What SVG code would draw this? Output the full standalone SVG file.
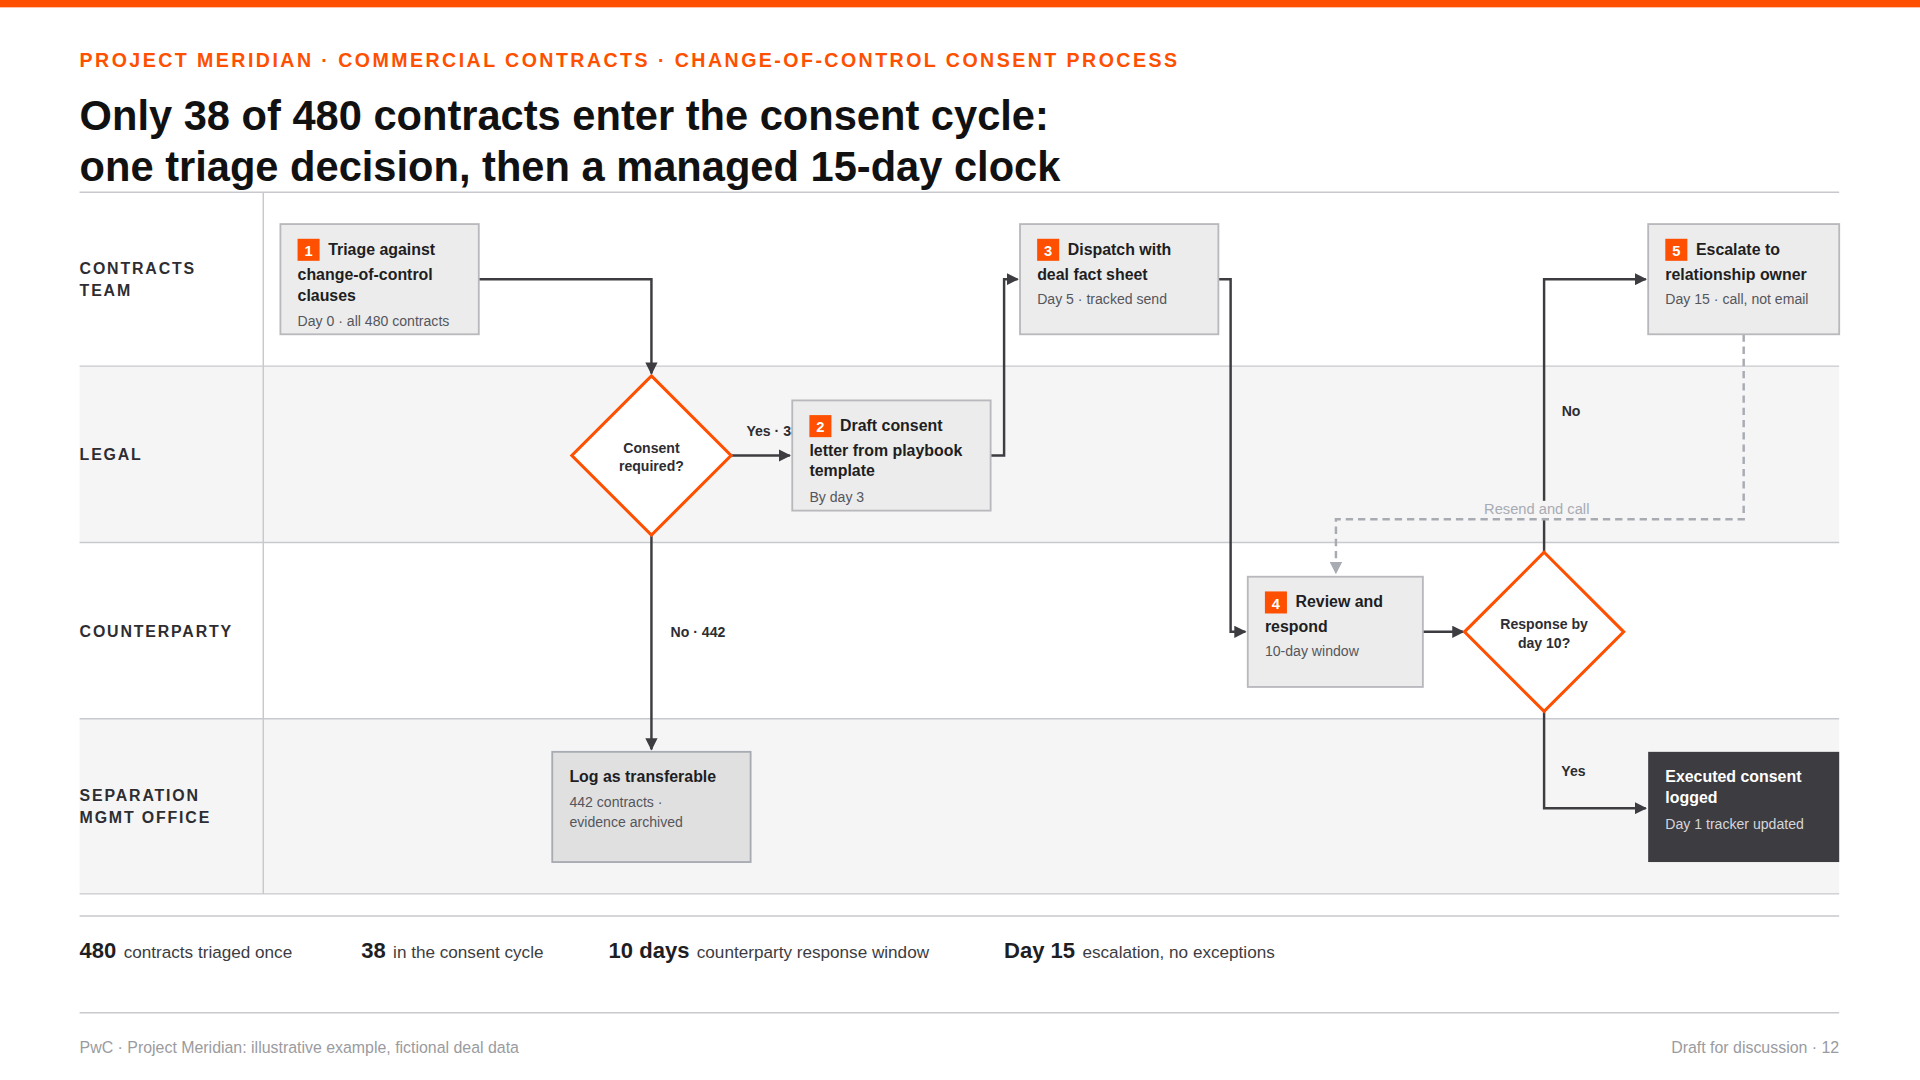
<svg xmlns="http://www.w3.org/2000/svg" width="1920" height="1080" viewBox="0 0 1920 1080">
<defs>
<marker id="ar" viewBox="0 0 10 10" refX="9" refY="5" markerWidth="10" markerHeight="10" markerUnits="userSpaceOnUse" orient="auto"><path d="M0,0L10,5L0,10z" fill="#3c3c41"/></marker>
<marker id="ag" viewBox="0 0 10 10" refX="9" refY="5" markerWidth="10" markerHeight="10" markerUnits="userSpaceOnUse" orient="auto"><path d="M0,0L10,5L0,10z" fill="#a8abb2"/></marker>
<style>
text{font-family:"Liberation Sans",Arial,sans-serif;}
.lane{font-size:13px;font-weight:bold;letter-spacing:1.5px;fill:#2d2d32}
.box{fill:#ececec;stroke:#b9b9bd;stroke-width:1.5}
.t{font-size:13px;font-weight:bold;fill:#1e1e23}
.s{font-size:11.5px;fill:#55565c}
.bd{fill:#fe5000}
.bn{font-size:12px;font-weight:bold;fill:#fff}
.c{fill:none;stroke:#3c3c41;stroke-width:2}
.lb{font-size:11.5px;font-weight:bold;fill:#2d2d32}
.dia{fill:#fff;stroke:#fe5000;stroke-width:2.5}
.sep{stroke:#c8c9cd;stroke-width:1.2}
.big{font-size:18px;font-weight:bold;fill:#1e1e23}
.sm{font-size:14px;fill:#3c3c41}
</style>
</defs>
<rect width="1920" height="1080" fill="#fff"/>
<g transform="scale(1.2245)">
<rect x="0" y="0" width="1568" height="6" fill="#fe5000"/>
<text x="65" y="55" font-size="16" font-weight="bold" fill="#fe5000" letter-spacing="2">PROJECT MERIDIAN · COMMERCIAL CONTRACTS · CHANGE-OF-CONTROL CONSENT PROCESS</text>
<text x="65" y="106" font-size="34" font-weight="bold" fill="#111">Only 38 of 480 contracts enter the consent cycle:</text>
<text x="65" y="148" font-size="34" font-weight="bold" fill="#111">one triage decision, then a managed 15-day clock</text>
<g id="lanes">
<rect x="65" y="299" width="1437" height="144" fill="#f5f5f6"/>
<rect x="65" y="587" width="1437" height="143" fill="#f5f5f6"/>
<line class="sep" x1="65" y1="157" x2="1502" y2="157"/>
<line class="sep" x1="65" y1="299" x2="1502" y2="299"/>
<line class="sep" x1="65" y1="443" x2="1502" y2="443"/>
<line class="sep" x1="65" y1="587" x2="1502" y2="587"/>
<line class="sep" x1="65" y1="730" x2="1502" y2="730"/>
<line class="sep" x1="215" y1="157" x2="215" y2="730"/>
<text class="lane" x="65" y="224">CONTRACTS</text><text class="lane" x="65" y="242">TEAM</text>
<text class="lane" x="65" y="376">LEGAL</text>
<text class="lane" x="65" y="520">COUNTERPARTY</text>
<text class="lane" x="65" y="654">SEPARATION</text><text class="lane" x="65" y="672">MGMT OFFICE</text>
</g>
<g id="connectors">
<path class="c" d="M391,228H532V305" marker-end="url(#ar)"/>
<path class="c" d="M597,372H645" marker-end="url(#ar)"/>
<path class="c" d="M809,372H820V228H831" marker-end="url(#ar)"/>
<path class="c" d="M995,228H1005V516H1017" marker-end="url(#ar)"/>
<path class="c" d="M1162,516H1195" marker-end="url(#ar)"/>
<path class="c" d="M1261,451V228H1344" marker-end="url(#ar)"/>
<path class="c" d="M1261,581V660H1344" marker-end="url(#ar)"/>
<path class="c" d="M532,437V612" marker-end="url(#ar)"/>
<path d="M1424,273V424H1091V468" fill="none" stroke="#a8abb2" stroke-width="2" stroke-dasharray="6,4" marker-end="url(#ag)"/>
<rect x="1207" y="409" width="98" height="14" fill="#f5f5f6"/>
<text x="1255" y="420" font-size="12" fill="#a8abb2" text-anchor="middle">Resend and call</text>
<text class="lb" x="631" y="356" text-anchor="middle">Yes · 38</text>
<text class="lb" x="1283" y="340" text-anchor="middle">No</text>
<text class="lb" x="1285" y="634" text-anchor="middle">Yes</text>
<text class="lb" x="570" y="520" text-anchor="middle">No · 442</text>
</g>
<g id="n1"><rect class="box" x="229" y="183" width="162" height="90"/><rect class="bd" x="243" y="195" width="18" height="18"/><text class="bn" x="252" y="209" text-anchor="middle">1</text>
<text class="t" x="268" y="208">Triage against</text><text class="t" x="243" y="229">change-of-control</text><text class="t" x="243" y="246">clauses</text><text class="s" x="243" y="266">Day 0 · all 480 contracts</text></g>
<g id="d1"><path class="dia" d="M532,307L597,372L532,437L467,372Z"/><text class="lb" x="532" y="370" text-anchor="middle">Consent</text><text class="lb" x="532" y="385" text-anchor="middle">required?</text></g>
<g id="n2"><rect class="box" x="647" y="327" width="162" height="90"/><rect class="bd" x="661" y="339" width="18" height="18"/><text class="bn" x="670" y="353" text-anchor="middle">2</text>
<text class="t" x="686" y="352">Draft consent</text><text class="t" x="661" y="372">letter from playbook</text><text class="t" x="661" y="389">template</text><text class="s" x="661" y="410">By day 3</text></g>
<g id="n3"><rect class="box" x="833" y="183" width="162" height="90"/><rect class="bd" x="847" y="195" width="18" height="18"/><text class="bn" x="856" y="209" text-anchor="middle">3</text>
<text class="t" x="872" y="208">Dispatch with</text><text class="t" x="847" y="229">deal fact sheet</text><text class="s" x="847" y="248">Day 5 · tracked send</text></g>
<g id="n4"><rect class="box" x="1019" y="471" width="143" height="90"/><rect class="bd" x="1033" y="483" width="18" height="18"/><text class="bn" x="1042" y="497" text-anchor="middle">4</text>
<text class="t" x="1058" y="496">Review and</text><text class="t" x="1033" y="516">respond</text><text class="s" x="1033" y="536">10-day window</text></g>
<g id="d2"><path class="dia" d="M1261,451L1326,516L1261,581L1196,516Z"/><text class="lb" x="1261" y="514" text-anchor="middle">Response by</text><text class="lb" x="1261" y="529" text-anchor="middle">day 10?</text></g>
<g id="n5"><rect class="box" x="1346" y="183" width="156" height="90"/><rect class="bd" x="1360" y="195" width="18" height="18"/><text class="bn" x="1369" y="209" text-anchor="middle">5</text>
<text class="t" x="1385" y="208">Escalate to</text><text class="t" x="1360" y="229">relationship owner</text><text class="s" x="1360" y="248">Day 15 · call, not email</text></g>
<g id="log"><rect x="451" y="614" width="162" height="90" fill="#e0e0e1" stroke="#a8abb2" stroke-width="1.5"/>
<text class="t" x="465" y="639">Log as transferable</text><text class="s" x="465" y="659">442 contracts ·</text><text class="s" x="465" y="675">evidence archived</text></g>
<g id="exec"><rect x="1346" y="614" width="156" height="90" fill="#3c3c41"/>
<text class="t" x="1360" y="639" fill="#fff" style="fill:#fff">Executed consent</text><text class="t" x="1360" y="656" style="fill:#fff">logged</text><text class="s" x="1360" y="677" style="fill:#d6d6d9">Day 1 tracker updated</text></g>
<g id="stats">
<line class="sep" x1="65" y1="748" x2="1502" y2="748"/>
<text x="65" y="782"><tspan class="big">480</tspan><tspan class="sm" dx="6">contracts triaged once</tspan></text>
<text x="295" y="782"><tspan class="big">38</tspan><tspan class="sm" dx="6">in the consent cycle</tspan></text>
<text x="497" y="782"><tspan class="big">10 days</tspan><tspan class="sm" dx="6">counterparty response window</tspan></text>
<text x="820" y="782"><tspan class="big">Day 15</tspan><tspan class="sm" dx="6">escalation, no exceptions</tspan></text>
<line class="sep" x1="65" y1="827" x2="1502" y2="827"/>
<text x="65" y="860" font-size="13" fill="#9a9ba0">PwC · Project Meridian: illustrative example, fictional deal data</text>
<text x="1502" y="860" font-size="13" fill="#9a9ba0" text-anchor="end">Draft for discussion · 12</text>
</g>
</g>
</svg>
